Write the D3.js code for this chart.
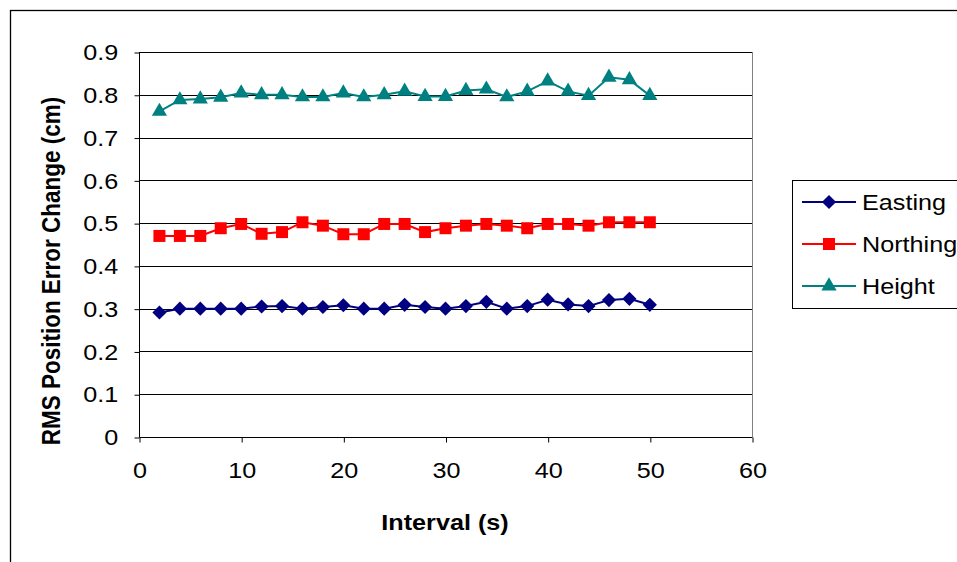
<!DOCTYPE html>
<html>
<head>
<meta charset="utf-8">
<script src="https://cdn.jsdelivr.net/npm/d3@7"></script>
<style>
  body { margin: 0; background: #fff; }
  svg { display: block; font-family: "Liberation Sans", Arial, sans-serif; }
</style>
</head>
<body>
<svg id="chart" width="957" height="562"></svg>
<script>
// Interval (s) for each sample
const intervals = [2,4,6,8,10,12,14,16,18,20,22,24,26,28,30,32,34,36,38,40,42,44,46,48,50];

// RMS position error change (cm) per component
const easting  = [0.291,0.300,0.300,0.300,0.300,0.305,0.306,0.300,0.304,0.308,0.300,0.300,0.309,0.304,0.300,0.306,0.316,0.300,0.306,0.321,0.310,0.306,0.320,0.323,0.309];
const northing = [0.470,0.470,0.470,0.488,0.498,0.475,0.479,0.502,0.494,0.474,0.474,0.498,0.498,0.479,0.488,0.494,0.498,0.494,0.488,0.498,0.498,0.494,0.502,0.502,0.502];
const height   = [0.761,0.788,0.790,0.794,0.804,0.800,0.800,0.795,0.795,0.804,0.795,0.800,0.808,0.796,0.796,0.810,0.813,0.795,0.808,0.832,0.808,0.798,0.841,0.835,0.798];

const seriesNames = ["Easting", "Northing", "Height"];
const xTicks = [0,10,20,30,40,50,60];
const yTicks = [0,0.1,0.2,0.3,0.4,0.5,0.6,0.7,0.8,0.9];

// Diamond drawn as a square turned 45 degrees
const diamond = {
  draw(ctx, size) {
    const r = Math.sqrt(size / 2);
    ctx.moveTo(0, -r); ctx.lineTo(r, 0); ctx.lineTo(0, r); ctx.lineTo(-r, 0); ctx.closePath();
  }
};

const series = [
  { name: seriesNames[0], values: easting,  color: "#000080", symbol: diamond,          size: 100 },
  { name: seriesNames[1], values: northing, color: "#ff0000", symbol: d3.symbolSquare,   size: 144 },
  { name: seriesNames[2], values: height,   color: "#008080", symbol: d3.symbolTriangle, size: 100 }
];

const svg = d3.select("#chart");
const plot = { left: 139, right: 752, top: 52, bottom: 437 };
const fontSize = 22.5;   // text size
const stretch = 1.12;    // horizontal text widening

const x = d3.scaleLinear().domain([0, 60]).range([plot.left, plot.right]);
const y = d3.scaleLinear().domain([0, 0.9]).range([plot.bottom, plot.top]);

// Outer chart frame
svg.append("rect")
  .attr("x", 10.5).attr("y", 10.5)
  .attr("width", 960).attr("height", 560)
  .attr("fill", "none").attr("stroke", "#000").attr("stroke-width", 1.3);

// Horizontal gridlines
svg.append("g")
  .selectAll("line")
  .data(yTicks.slice(1))
  .join("line")
  .attr("x1", plot.left).attr("x2", plot.right)
  .attr("y1", d => Math.round(y(d)) + 0.5).attr("y2", d => Math.round(y(d)) + 0.5)
  .attr("stroke", "#000").attr("stroke-width", 1);

// Right edge of plot area
svg.append("line")
  .attr("x1", plot.right + 0.5).attr("x2", plot.right + 0.5)
  .attr("y1", plot.top).attr("y2", plot.bottom)
  .attr("stroke", "#808080").attr("stroke-width", 1);

// Axes
const yAxis = d3.axisLeft(y).tickValues(yTicks).tickSize(5).tickPadding(14)
  .tickFormat(d => d === 0 ? "0" : d3.format(".1f")(d));
const gy = svg.append("g").attr("transform", `translate(${plot.left + 0.5},0.5)`).call(yAxis);

const xAxis = d3.axisBottom(x).tickValues(xTicks).tickSize(5).tickPadding(20).tickFormat(d3.format("d"));
const gx = svg.append("g").attr("transform", `translate(0.5,${plot.bottom + 0.5})`).call(xAxis);

[gy, gx].forEach(g => {
  g.select(".domain").attr("stroke", "#000").attr("stroke-width", 1);
  g.selectAll(".tick line").attr("stroke", "#000");
  g.selectAll(".tick text")
    .attr("fill", "#000")
    .attr("transform", `scale(${stretch},1)`)
    .style("font-size", fontSize + "px")
    .style("font-family", "'Liberation Sans', Arial, sans-serif");
});
gy.select(".domain").attr("d", `M0,${plot.bottom}V${plot.top}`);
gx.select(".domain").attr("d", `M${plot.left},0H${plot.right}`);

// Axis titles
svg.append("text")
  .attr("transform", `translate(445,530) scale(${stretch},1)`)
  .attr("text-anchor", "middle")
  .style("font-size", fontSize + "px").style("font-weight", "bold")
  .text("Interval (s)");

svg.append("text")
  .attr("transform", `translate(60,271) scale(${stretch},1) rotate(-90)`)
  .attr("text-anchor", "middle")
  .style("font-size", fontSize + "px").style("font-weight", "bold")
  .text("RMS Position Error Change (cm)");

// Series lines and markers
const line = d3.line().x((d, i) => x(intervals[i])).y(d => y(d));

series.forEach(s => {
  const g = svg.append("g");
  g.append("path")
    .datum(s.values)
    .attr("d", line)
    .attr("fill", "none")
    .attr("stroke", s.color)
    .attr("stroke-width", 2);
  g.selectAll("path.marker")
    .data(s.values)
    .join("path")
    .attr("class", "marker")
    .attr("d", d3.symbol().type(s.symbol).size(s.size))
    .attr("transform", (d, i) => `translate(${x(intervals[i])},${y(d)})`)
    .attr("fill", s.color);
});

// Legend
const legend = svg.append("g");
legend.append("rect")
  .attr("x", 792.5).attr("y", 180.5)
  .attr("width", 200).attr("height", 128)
  .attr("fill", "#fff").attr("stroke", "#000").attr("stroke-width", 1);

series.forEach((s, i) => {
  const cy = 202 + i * 42;
  legend.append("line")
    .attr("x1", 802).attr("x2", 856)
    .attr("y1", cy).attr("y2", cy)
    .attr("stroke", s.color).attr("stroke-width", 2);
  legend.append("path")
    .attr("d", d3.symbol().type(s.symbol).size(s.size))
    .attr("transform", `translate(829,${cy})`)
    .attr("fill", s.color);
  legend.append("text")
    .attr("transform", `translate(862,${cy + 8}) scale(${stretch},1)`)
    .style("font-size", fontSize + "px")
    .text(s.name);
});
</script>
</body>
</html>
